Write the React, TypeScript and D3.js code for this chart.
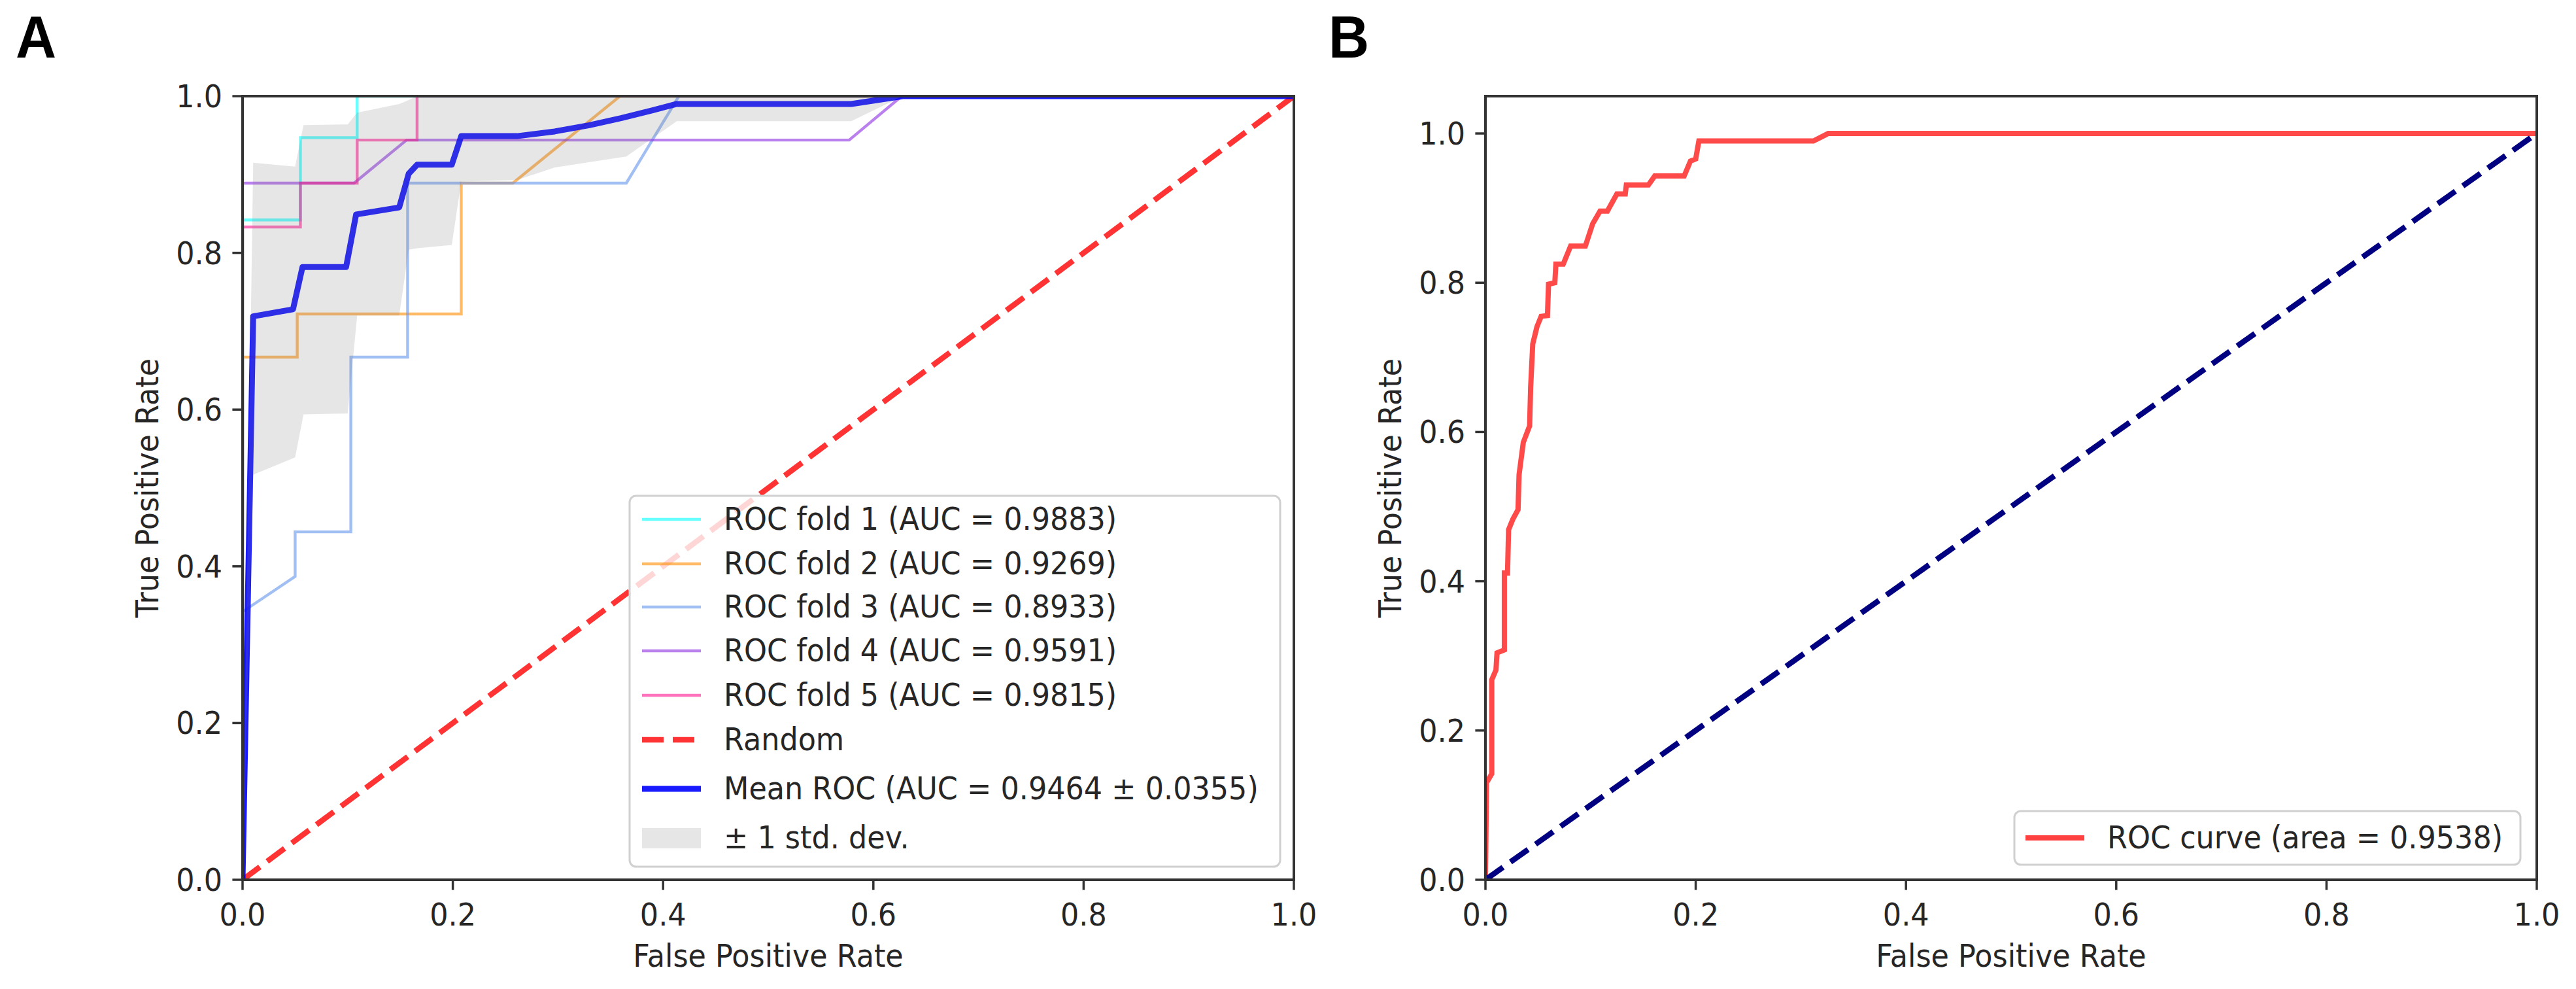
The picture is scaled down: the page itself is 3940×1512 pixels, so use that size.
import React from "react";
import * as d3 from "d3";

// ---------------- DATA ----------------
const TICKS = [0, 0.2, 0.4, 0.6, 0.8, 1.0];
const PANEL_LABELS = ["A", "B"];
const AXIS_X_LABEL = "False Positive Rate";
const AXIS_Y_LABEL = "True Positive Rate";

const FOLD_AUC = [0.9883, 0.9269, 0.8933, 0.9591, 0.9815];
const MEAN_AUC = 0.9464;
const STD_AUC = 0.0355;
const B_AUC = 0.9538;

// [fpr, tpr]
const FOLD1: [number, number][] = [[0, 0], [0, 0.842], [0.055, 0.842], [0.055, 0.947], [0.109, 0.947], [0.109, 1], [1, 1]];
const FOLD2: [number, number][] = [[0, 0], [0, 0.667], [0.052, 0.667], [0.052, 0.722], [0.208, 0.722], [0.208, 0.889], [0.257, 0.889], [0.359, 1], [1, 1]];
const FOLD3: [number, number][] = [[0, 0], [0, 0.342], [0.05, 0.387], [0.05, 0.444], [0.103, 0.444], [0.103, 0.667], [0.157, 0.667], [0.157, 0.889], [0.365, 0.889], [0.415, 1], [1, 1]];
const FOLD4: [number, number][] = [[0, 0], [0, 0.889], [0.106, 0.889], [0.156, 0.944], [0.577, 0.944], [0.627, 1], [1, 1]];
const FOLD5: [number, number][] = [[0, 0], [0, 0.833], [0.055, 0.833], [0.055, 0.889], [0.109, 0.889], [0.109, 0.944], [0.166, 0.944], [0.166, 1], [1, 1]];
const FOLDS = [FOLD1, FOLD2, FOLD3, FOLD4, FOLD5];

const MEAN_ROC: [number, number][] = [
  [0, 0], [0.0101, 0.719], [0.048, 0.728], [0.057, 0.782], [0.0985, 0.782], [0.108, 0.849],
  [0.149, 0.858], [0.158, 0.901], [0.166, 0.9125], [0.199, 0.9125], [0.208, 0.949], [0.261, 0.949],
  [0.297, 0.955], [0.33, 0.963], [0.36, 0.972], [0.39, 0.982], [0.413, 0.99], [0.579, 0.99],
  [0.628, 1.0], [1, 1],
];

// [fpr, lower, upper]
const STD_BAND: [number, number, number][] = [
  [0, 0, 0], [0.0101, 0.517, 0.915], [0.05, 0.539, 0.91], [0.058, 0.594, 0.963], [0.1, 0.595, 0.964],
  [0.109, 0.72, 0.979], [0.149, 0.72, 0.99], [0.158, 0.804, 0.995], [0.166, 0.806, 1], [0.199, 0.81, 1],
  [0.208, 0.891, 1], [0.261, 0.893, 1], [0.297, 0.909, 1], [0.365, 0.923, 1], [0.413, 0.968, 1],
  [0.579, 0.968, 1], [0.628, 1, 1], [1, 1, 1],
];

const RANDOM_LINE: [number, number][] = [[0, 0], [1, 1]];

const B_ROC: [number, number][] = [
  [0, 0], [0.001, 0.13], [0.006, 0.142], [0.006, 0.268], [0.01, 0.281], [0.011, 0.304], [0.018, 0.308],
  [0.018, 0.411], [0.021, 0.411], [0.022, 0.469], [0.026, 0.483], [0.031, 0.496], [0.032, 0.543],
  [0.036, 0.586], [0.042, 0.608], [0.043, 0.66], [0.045, 0.718], [0.049, 0.741], [0.053, 0.755],
  [0.059, 0.756], [0.06, 0.798], [0.066, 0.8], [0.067, 0.825], [0.074, 0.825], [0.081, 0.849],
  [0.095, 0.849], [0.102, 0.879], [0.109, 0.896], [0.116, 0.896], [0.125, 0.919], [0.133, 0.919],
  [0.134, 0.931], [0.155, 0.931], [0.161, 0.943], [0.189, 0.943], [0.195, 0.963], [0.2, 0.966],
  [0.203, 0.99], [0.312, 0.99], [0.326, 1.0], [1, 1],
];

// ---------------- STYLE / LAYOUT ----------------
const W = 3940;
const H = 1512;
const FONT = "DejaVu Sans";
const FS = 44.5;
const SY = 1.06;
const FOLD_COLORS = ["aqua", "darkorange", "cornflowerblue", "blueviolet", "deeppink"];
const FOLD_OPACITY = 0.6;
const AX_A = { x0: 371, x1: 1979, y0: 1345, y1: 147 };
const AX_B = { x0: 2272, x1: 3880, y0: 1345, y1: 147 };
const SPINE = "#333";
const TICK_LEN = 15.6;
const DASH = "33 14";

function T(props: { x: number; y: number; rot?: number; anchor?: string; size?: number; weight?: string; family?: string; fill?: string; children: any }) {
  const { x, y, rot, anchor, size, weight, family, fill, children } = props;
  const tr = `translate(${x},${y})` + (rot ? ` rotate(${rot})` : "") + ` scale(1,${SY})`;
  return (
    <text transform={tr} textAnchor={anchor || "start"} fontSize={size || FS} fontWeight={weight || "normal"}
      fontFamily={family || FONT} fill={fill || "#262626"}>
      {children}
    </text>
  );
}

const fmt = d3.format(".1f");

function Axes(props: { ax: any; yMax: number; id: string; children: any }) {
  const { ax, yMax, id, children } = props;
  const x = d3.scaleLinear().domain([0, 1]).range([ax.x0, ax.x1]);
  const y = d3.scaleLinear().domain([0, yMax]).range([ax.y0, ax.y1]);
  return (
    <g>
      <defs>
        <clipPath id={id}>
          <rect x={ax.x0} y={ax.y1} width={ax.x1 - ax.x0} height={ax.y0 - ax.y1} />
        </clipPath>
      </defs>
      <g clipPath={`url(#${id})`}>{children(x, y)}</g>
      <rect x={ax.x0} y={ax.y1} width={ax.x1 - ax.x0} height={ax.y0 - ax.y1} fill="none" stroke={SPINE} strokeWidth={4} />
      {TICKS.map((t) => (
        <g key={"x" + t}>
          <line x1={x(t)} x2={x(t)} y1={ax.y0} y2={ax.y0 + TICK_LEN} stroke={SPINE} strokeWidth={3.5} />
          <T x={x(t)} y={ax.y0 + 70} anchor="middle">{fmt(t)}</T>
        </g>
      ))}
      {TICKS.map((t) => (
        <g key={"y" + t}>
          <line x1={ax.x0 - TICK_LEN} x2={ax.x0} y1={y(t)} y2={y(t)} stroke={SPINE} strokeWidth={3.5} />
          <T x={ax.x0 - 31} y={y(t) + 17} anchor="end">{fmt(t)}</T>
        </g>
      ))}
      <T x={(ax.x0 + ax.x1) / 2} y={ax.y0 + 133} anchor="middle">{AXIS_X_LABEL}</T>
      <T x={ax.x0 - 129} y={(ax.y0 + ax.y1) / 2} rot={-90} anchor="middle">{AXIS_Y_LABEL}</T>
    </g>
  );
}

export default function App() {
  const lineGen = (x: any, y: any) => d3.line<[number, number]>().x((d) => x(d[0])).y((d) => y(d[1]));
  const bandGen = (x: any, y: any) =>
    d3.area<[number, number, number]>().x((d) => x(d[0])).y0((d) => y(d[1])).y1((d) => y(d[2]));

  // legend A
  const LA = { x: 963, y: 758, w: 995, h: 567, hx0: 982, hx1: 1072, tx: 1107 };
  const rowsA = [794, 862, 928, 995, 1063, 1131, 1206, 1281];
  const legendLabelsA = [
    ...FOLD_AUC.map((a, i) => `ROC fold ${i + 1} (AUC = ${a.toFixed(4)})`),
    "Random",
    `Mean ROC (AUC = ${MEAN_AUC.toFixed(4)} \u00b1 ${STD_AUC.toFixed(4)})`,
    "\u00b1 1 std. dev.",
  ];
  const LB = { x: 3081, y: 1240, w: 774, h: 82, hx0: 3098, hx1: 3188, tx: 3223 };

  return (
    <svg width={W} height={H} style={{ position: "absolute", left: 0, top: 0, background: "#fff" }}>
      <rect x={0} y={0} width={W} height={H} fill="#fff" />
      <T x={24} y={88} size={86} weight="bold" family="Liberation Sans" fill="#000">{PANEL_LABELS[0]}</T>
      <T x={2032} y={88} size={86} weight="bold" family="Liberation Sans" fill="#000">{PANEL_LABELS[1]}</T>

      <Axes ax={AX_A} yMax={1} id="clipA">
        {(x: any, y: any) => (
          <g>
            {FOLDS.map((f, i) => (
              <path key={i} d={lineGen(x, y)(f) as string} fill="none" stroke={FOLD_COLORS[i]}
                strokeOpacity={FOLD_OPACITY} strokeWidth={4.4} />
            ))}
            <path d={lineGen(x, y)(RANDOM_LINE) as string} fill="none" stroke="red" strokeOpacity={0.8}
              strokeWidth={8.5} strokeDasharray={DASH} />
            <path d={lineGen(x, y)(MEAN_ROC) as string} fill="none" stroke="blue" strokeOpacity={0.9}
              strokeWidth={9} strokeLinejoin="round" />
            <path d={bandGen(x, y)(STD_BAND) as string} fill="grey" fillOpacity={0.2} stroke="none" />
          </g>
        )}
      </Axes>

      {/* Legend A */}
      <g>
        <rect x={LA.x} y={LA.y} width={LA.w} height={LA.h} rx={10} fill="#fff" fillOpacity={0.8} stroke="#d0d0d0" strokeWidth={3} />
        {legendLabelsA.map((lab, i) => {
          const cy = rowsA[i];
          let handle;
          if (i < 5) handle = <line x1={LA.hx0} x2={LA.hx1} y1={cy} y2={cy} stroke={FOLD_COLORS[i]} strokeOpacity={FOLD_OPACITY} strokeWidth={4.4} />;
          else if (i === 5) handle = <line x1={LA.hx0} x2={LA.hx1} y1={cy} y2={cy} stroke="red" strokeOpacity={0.8} strokeWidth={8.5} strokeDasharray={DASH} />;
          else if (i === 6) handle = <line x1={LA.hx0} x2={LA.hx1} y1={cy} y2={cy} stroke="blue" strokeOpacity={0.9} strokeWidth={9} />;
          else handle = <rect x={LA.hx0} y={cy - 15} width={LA.hx1 - LA.hx0} height={31} fill="grey" fillOpacity={0.2} />;
          return (
            <g key={i}>
              {handle}
              <T x={LA.tx} y={cy + 16}>{lab}</T>
            </g>
          );
        })}
      </g>

      <Axes ax={AX_B} yMax={1.05} id="clipB">
        {(x: any, y: any) => (
          <g>
            <path d={lineGen(x, y)(B_ROC) as string} fill="none" stroke="#ff4040" strokeOpacity={0.95}
              strokeWidth={8} strokeLinejoin="miter" />
            <path d={lineGen(x, y)(RANDOM_LINE) as string} fill="none" stroke="navy"
              strokeWidth={8.5} strokeDasharray={DASH} />
          </g>
        )}
      </Axes>

      {/* Legend B */}
      <g>
        <rect x={LB.x} y={LB.y} width={LB.w} height={LB.h} rx={10} fill="#fff" fillOpacity={0.8} stroke="#d0d0d0" strokeWidth={3} />
        <line x1={LB.hx0} x2={LB.hx1} y1={LB.y + LB.h / 2} y2={LB.y + LB.h / 2} stroke="#ff4040" strokeWidth={8} />
        <T x={LB.tx} y={LB.y + LB.h / 2 + 16}>{`ROC curve (area = ${B_AUC.toFixed(4)})`}</T>
      </g>
    </svg>
  );
}
